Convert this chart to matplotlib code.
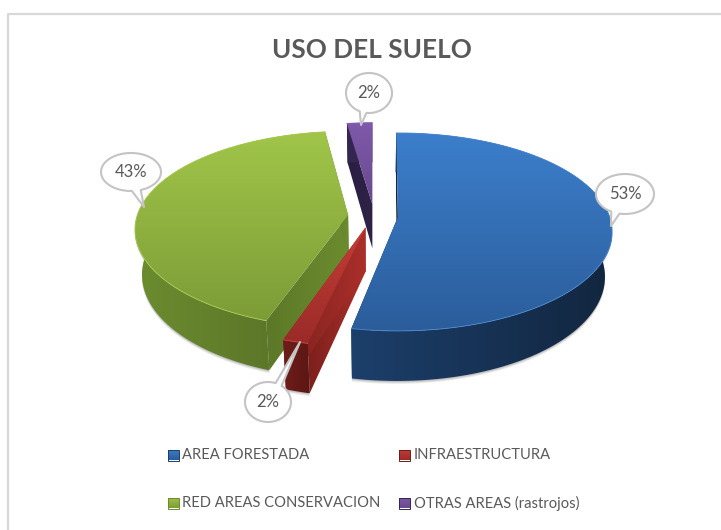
import numpy as np
import matplotlib
matplotlib.use("Agg")
import matplotlib.pyplot as plt
from matplotlib.colors import LinearSegmentedColormap
from matplotlib.patches import Polygon, Rectangle

# datos
titulo = "USO DEL SUELO"
categorias = ["AREA FORESTADA", "INFRAESTRUCTURA", "RED AREAS CONSERVACION", "OTRAS AREAS (rastrojos)"]
valores = [53, 2, 43, 2]

# colores: tapa (arriba, abajo), borde exterior (izq, der), corte (izq, der), brillo
c_tapa = [("#3c7ecb", "#2b5d9b"), ("#c53d37", "#9a2b28"), ("#a0c549", "#7c9c37"), ("#7f59aa", "#684a8e")]
c_borde = [("#1c3f6b", "#12263f"), ("#6e1d19", "#5c1714"), ("#6c8c2f", "#556e26"), ("#33264f", "#33264f")]
c_corte = [("#12263f", "#12263f"), ("#7c201c", "#ab2f2b"), ("#5c7828", "#6c8c2f"), ("#2a1f42", "#2e2247")]
c_brillo = ["#4a88d0", "#d04a44", "#aacd52", "#8a64b3"]

# globos: centro y punta, en pixeles
globo_xy = [(625, 194), (268, 402), (131, 172), (369, 93)]
globo_rad = [(29, 20), (23, 20), (30, 19), (23, 20)]
globo_tip = [(611, 226), (300, 342), (144, 207), (361, 125)]
leyenda_xy = [(173, 455), (404.5, 455), (173, 503), (404.5, 503)]

# ajustes finos por porcion: giro de cada corte (grados), escala, explosion, corrimiento x
giro_ini = [-0.5, 2.0, 1.5, -1]
giro_fin = [0, 0.5, 0, 0]
escala = [0.99, 1.04, 0.985, 0.96]
explosion = [26, 26, 24, 26]
corrim = [0, 0, 0, 2]

CX, CY = 372, 216
R, A, K = 214, 97.75, 0.15
DEPTH, K_D = 44, 0.12
GRIS = "#595959"
FUENTE = "Lato"


def gradient(ax, pts, c1, c2, vertical=True, zorder=1):
    pts = np.asarray(pts)
    x0, y0 = pts.min(axis=0)
    x1, y1 = pts.max(axis=0)
    cmap = LinearSegmentedColormap.from_list("g", [c1, c2])
    ramp = np.linspace(0, 1, 64)
    img = ramp[:, None] if vertical else ramp[None, :]
    im = ax.imshow(img, cmap=cmap, extent=(x0, x1, y1, y0), aspect="auto",
                   origin="upper", zorder=zorder, interpolation="bilinear")
    poly = Polygon(pts, closed=True, transform=ax.transData, fc="none", ec="none")
    ax.add_patch(poly)
    im.set_clip_path(poly)


def slice_pts(i, a0, a1):
    mid = np.radians((a0 + a1) / 2)
    e = explosion[i]
    ax_ = CX + e * np.sin(mid) + corrim[i]
    ay_ = CY - e * np.cos(mid) * 0.45
    a0 = a0 + giro_ini[i]
    a1 = a1 + giro_fin[i]
    th = np.radians(np.linspace(a0, a1, max(3, int(a1 - a0) * 2)))
    u, v = np.sin(th), np.cos(th)
    p = escala[i] / (1 + K * v)
    top = np.c_[ax_ + R * u * p, ay_ - A * v * p]
    d = DEPTH / (1 + K_D * v)
    bot = np.c_[CX + (top[:, 0] - CX) * 0.97, top[:, 1] + d]
    apex = np.array([ax_, ay_])
    apex_b = np.array([CX + (ax_ - CX) * 0.97, ay_ + DEPTH])
    return apex, apex_b, top, bot


def globo(ax, texto, c, rad, tip):
    ang_t = np.arctan2((tip[1] - c[1]) / rad[1], (tip[0] - c[0]) / rad[0])
    th = np.linspace(ang_t + 0.2, ang_t + 2 * np.pi - 0.1, 90)
    pts = np.c_[c[0] + rad[0] * np.cos(th), c[1] + rad[1] * np.sin(th)]
    pts = np.vstack([pts, tip])
    ax.add_patch(Polygon(pts, closed=True, fc="white", ec="#c4c4c4", lw=1.5, zorder=20, joinstyle="round"))
    ax.text(c[0], c[1], texto, ha="center", va="center", fontsize=12, color=GRIS,
            family=FUENTE, zorder=21)


fig = plt.figure(figsize=(7.21, 5.30), dpi=100)
ax = fig.add_axes([0, 0, 1, 1])
ax.set_xlim(0, 721)
ax.set_ylim(530, 0)
ax.axis("off")
ax.set_autoscale_on(False)

# marco del grafico
ax.plot([8, 8, 721], [530, 13.5, 13.5], color="#d9d9d9", lw=1.6, zorder=0)

ax.text(372, 50, titulo, ha="center", va="center", fontsize=18.8, fontweight="bold",
        color=GRIS, family=FUENTE)

total = sum(valores)
lims = np.r_[0, np.cumsum(valores)] / total * 360
orden = [3, 0, 2, 1]  # de atras hacia adelante
for z, i in enumerate(orden):
    zb = 2 + z * 2
    apex, apex_b, top, bot = slice_pts(i, lims[i], lims[i + 1])

    rim = np.vstack([top, bot[::-1]])
    # sombra suave bajo el borde
    for off, al in ((3, 0.10), (2, 0.14), (1, 0.2)):
        ax.add_patch(Polygon(rim + [0, off], closed=True, fc="#555555", ec="none", alpha=al, zorder=zb))

    cara0 = [apex, top[0], bot[0], apex_b]
    cara1 = [apex, top[-1], bot[-1], apex_b]
    gradient(ax, cara0, *c_corte[i], vertical=False, zorder=zb)
    gradient(ax, cara1, *c_corte[i], vertical=False, zorder=zb)
    gradient(ax, rim, *c_borde[i], vertical=False, zorder=zb)
    gradient(ax, np.vstack([apex, top]), *c_tapa[i], zorder=zb + 1)
    ax.plot(top[:, 0], top[:, 1], color=c_brillo[i], lw=0.6, zorder=zb + 1)

for i, v in enumerate(valores):
    globo(ax, f"{v}%", globo_xy[i], globo_rad[i], globo_tip[i])

for i, cat in enumerate(categorias):
    x, y = leyenda_xy[i]
    h = 5.5
    sq = [(x - h, y - h), (x + h, y - h), (x + h, y + h), (x - h, y + h)]
    gradient(ax, sq, c_tapa[i][0], c_tapa[i][1], zorder=3)
    ax.add_patch(Rectangle((x - h, y - h), 2 * h, 2 * h, fc="none", ec=c_borde[i][0], lw=0.7, zorder=4))
    ax.text(x + 9.5, y, cat, ha="left", va="center", fontsize=10.6, color=GRIS, family=FUENTE)

fig.savefig("out.png", dpi=100, facecolor="white")
